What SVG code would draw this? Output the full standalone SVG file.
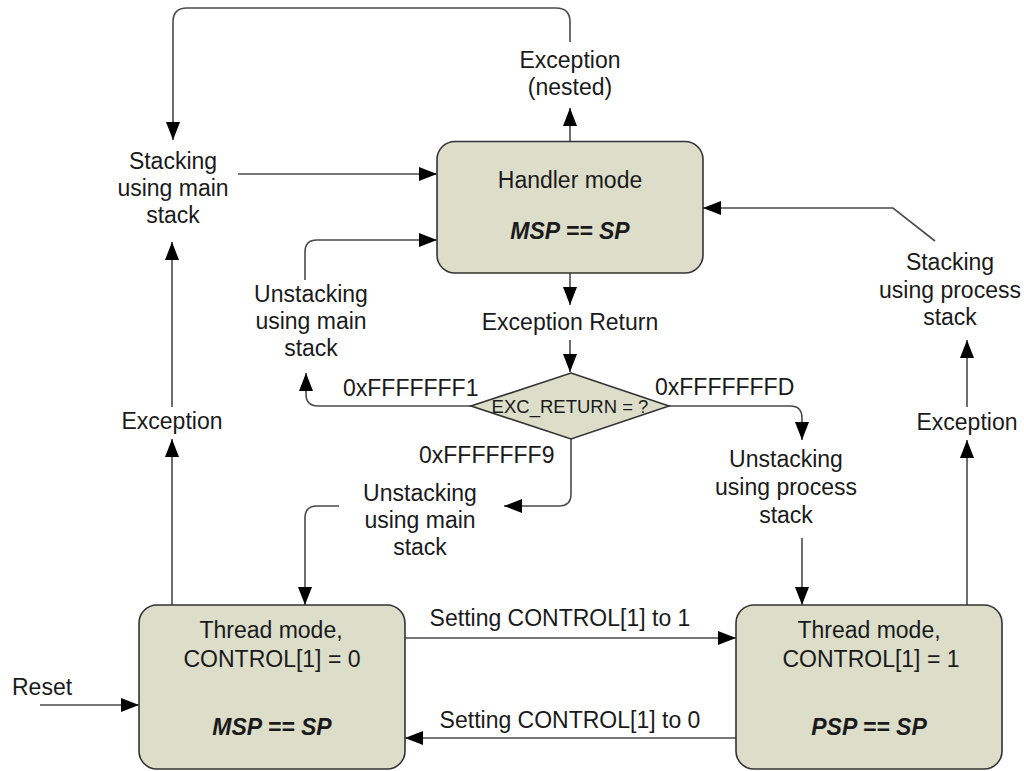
<svg xmlns="http://www.w3.org/2000/svg" width="1024" height="771" viewBox="0 0 1024 771">
<style>
  .box { fill: #dcdeca; stroke: #333333; stroke-width: 1.6; }
  .t { font-family: "Liberation Sans", Arial, sans-serif; font-size: 23px; fill: #1a1a1a; text-anchor: middle; }
  .s { text-anchor: start; }
  .b { font-weight: bold; font-style: italic; }
  .small { font-size: 18.5px; }
  .c { fill: none; stroke: #4a4a4a; stroke-width: 1.6; marker-end: url(#arrow); }
</style>
<defs>
  <marker id="arrow" markerUnits="userSpaceOnUse" viewBox="0 0 18 14" refX="18" refY="7" markerWidth="18" markerHeight="14" orient="auto">
    <path d="M0,0 L18,7 L0,14 z" fill="#000000"/>
  </marker>
</defs>
<rect width="1024" height="771" fill="#ffffff"/>

<g id="connectors">
  <path class="c" d="M570,42 V22 Q570,8 556,8 H187 Q173,8 173,22 V140"/>
  <path class="c" d="M570,141.5 V108"/>
  <path class="c" d="M238,174 H437"/>
  <path class="c" d="M172,407 V242"/>
  <path class="c" d="M172,605 V439"/>
  <path class="c" d="M305,280 V252 Q305,240 317,240 H437"/>
  <path class="c" d="M570,273 V305"/>
  <path class="c" d="M570,340 V372"/>
  <path class="c" d="M471,406 H318 Q306,406 306,394 V373"/>
  <path class="c" d="M669,406 H790 Q802,406 802,418 V440"/>
  <path class="c" d="M571,439 V494 Q571,506 559,506 H504"/>
  <path class="c" d="M339,506 H317 Q305,506 305,518 V605"/>
  <path class="c" d="M802,538 V605"/>
  <path class="c" d="M967,605 V440"/>
  <path class="c" d="M967,407 V340"/>
  <path class="c" d="M935,241 L893,208 H703"/>
  <path class="c" d="M405,638 H736"/>
  <path class="c" d="M736,738 H405"/>
  <path class="c" d="M40,705 H139"/>
</g>

<g id="handler">
  <rect class="box" x="437" y="141.5" width="266" height="131.5" rx="18"/>
  <text class="t" x="570" y="188">Handler mode</text>
  <text class="t b" x="570" y="239">MSP == SP</text>
</g>

<g id="decision">
  <polygon class="box" points="571,373 669,406 571,439 471,406"/>
  <text class="t small" x="570" y="413">EXC_RETURN = ?</text>
</g>

<g id="thread0">
  <rect class="box" x="139" y="605" width="266" height="164" rx="18"/>
  <text class="t" x="271" y="638">Thread mode,</text>
  <text class="t" x="272" y="667">CONTROL[1] = 0</text>
  <text class="t b" x="272" y="735">MSP == SP</text>
</g>

<g id="thread1">
  <rect class="box" x="736" y="605" width="266" height="164" rx="18"/>
  <text class="t" x="869" y="638">Thread mode,</text>
  <text class="t" x="871" y="667">CONTROL[1] = 1</text>
  <text class="t b" x="869" y="735">PSP == SP</text>
</g>

<g id="exception-nested">
  <text class="t" x="570" y="68">Exception</text>
  <text class="t" x="570" y="95">(nested)</text>
</g>

<g id="stacking-main">
  <text class="t" x="173" y="169">Stacking</text>
  <text class="t" x="173" y="196">using main</text>
  <text class="t" x="173" y="223">stack</text>
</g>

<g id="unstacking-main-upper">
  <text class="t" x="311" y="302">Unstacking</text>
  <text class="t" x="311" y="329">using main</text>
  <text class="t" x="311" y="356">stack</text>
</g>

<g id="exception-return">
  <text class="t" x="570" y="330">Exception Return</text>
</g>

<g id="unstacking-main-lower">
  <text class="t" x="420" y="501">Unstacking</text>
  <text class="t" x="420" y="528">using main</text>
  <text class="t" x="420" y="555">stack</text>
</g>

<g id="unstacking-process">
  <text class="t" x="786" y="467">Unstacking</text>
  <text class="t" x="786" y="495">using process</text>
  <text class="t" x="786" y="523">stack</text>
</g>

<g id="stacking-process">
  <text class="t" x="950" y="270">Stacking</text>
  <text class="t" x="950" y="298">using process</text>
  <text class="t" x="950" y="325">stack</text>
</g>

<g id="exception-left">
  <text class="t" x="172" y="429">Exception</text>
</g>

<g id="exception-right">
  <text class="t" x="967" y="430">Exception</text>
</g>

<g id="labels">
  <text class="t s" x="343" y="396">0xFFFFFFF1</text>
  <text class="t s" x="655" y="395">0xFFFFFFFD</text>
  <text class="t s" x="419" y="463">0xFFFFFFF9</text>
  <text class="t" x="560" y="626">Setting CONTROL[1] to 1</text>
  <text class="t" x="570" y="728">Setting CONTROL[1] to 0</text>
  <text class="t s" x="12" y="695">Reset</text>
</g>
</svg>
